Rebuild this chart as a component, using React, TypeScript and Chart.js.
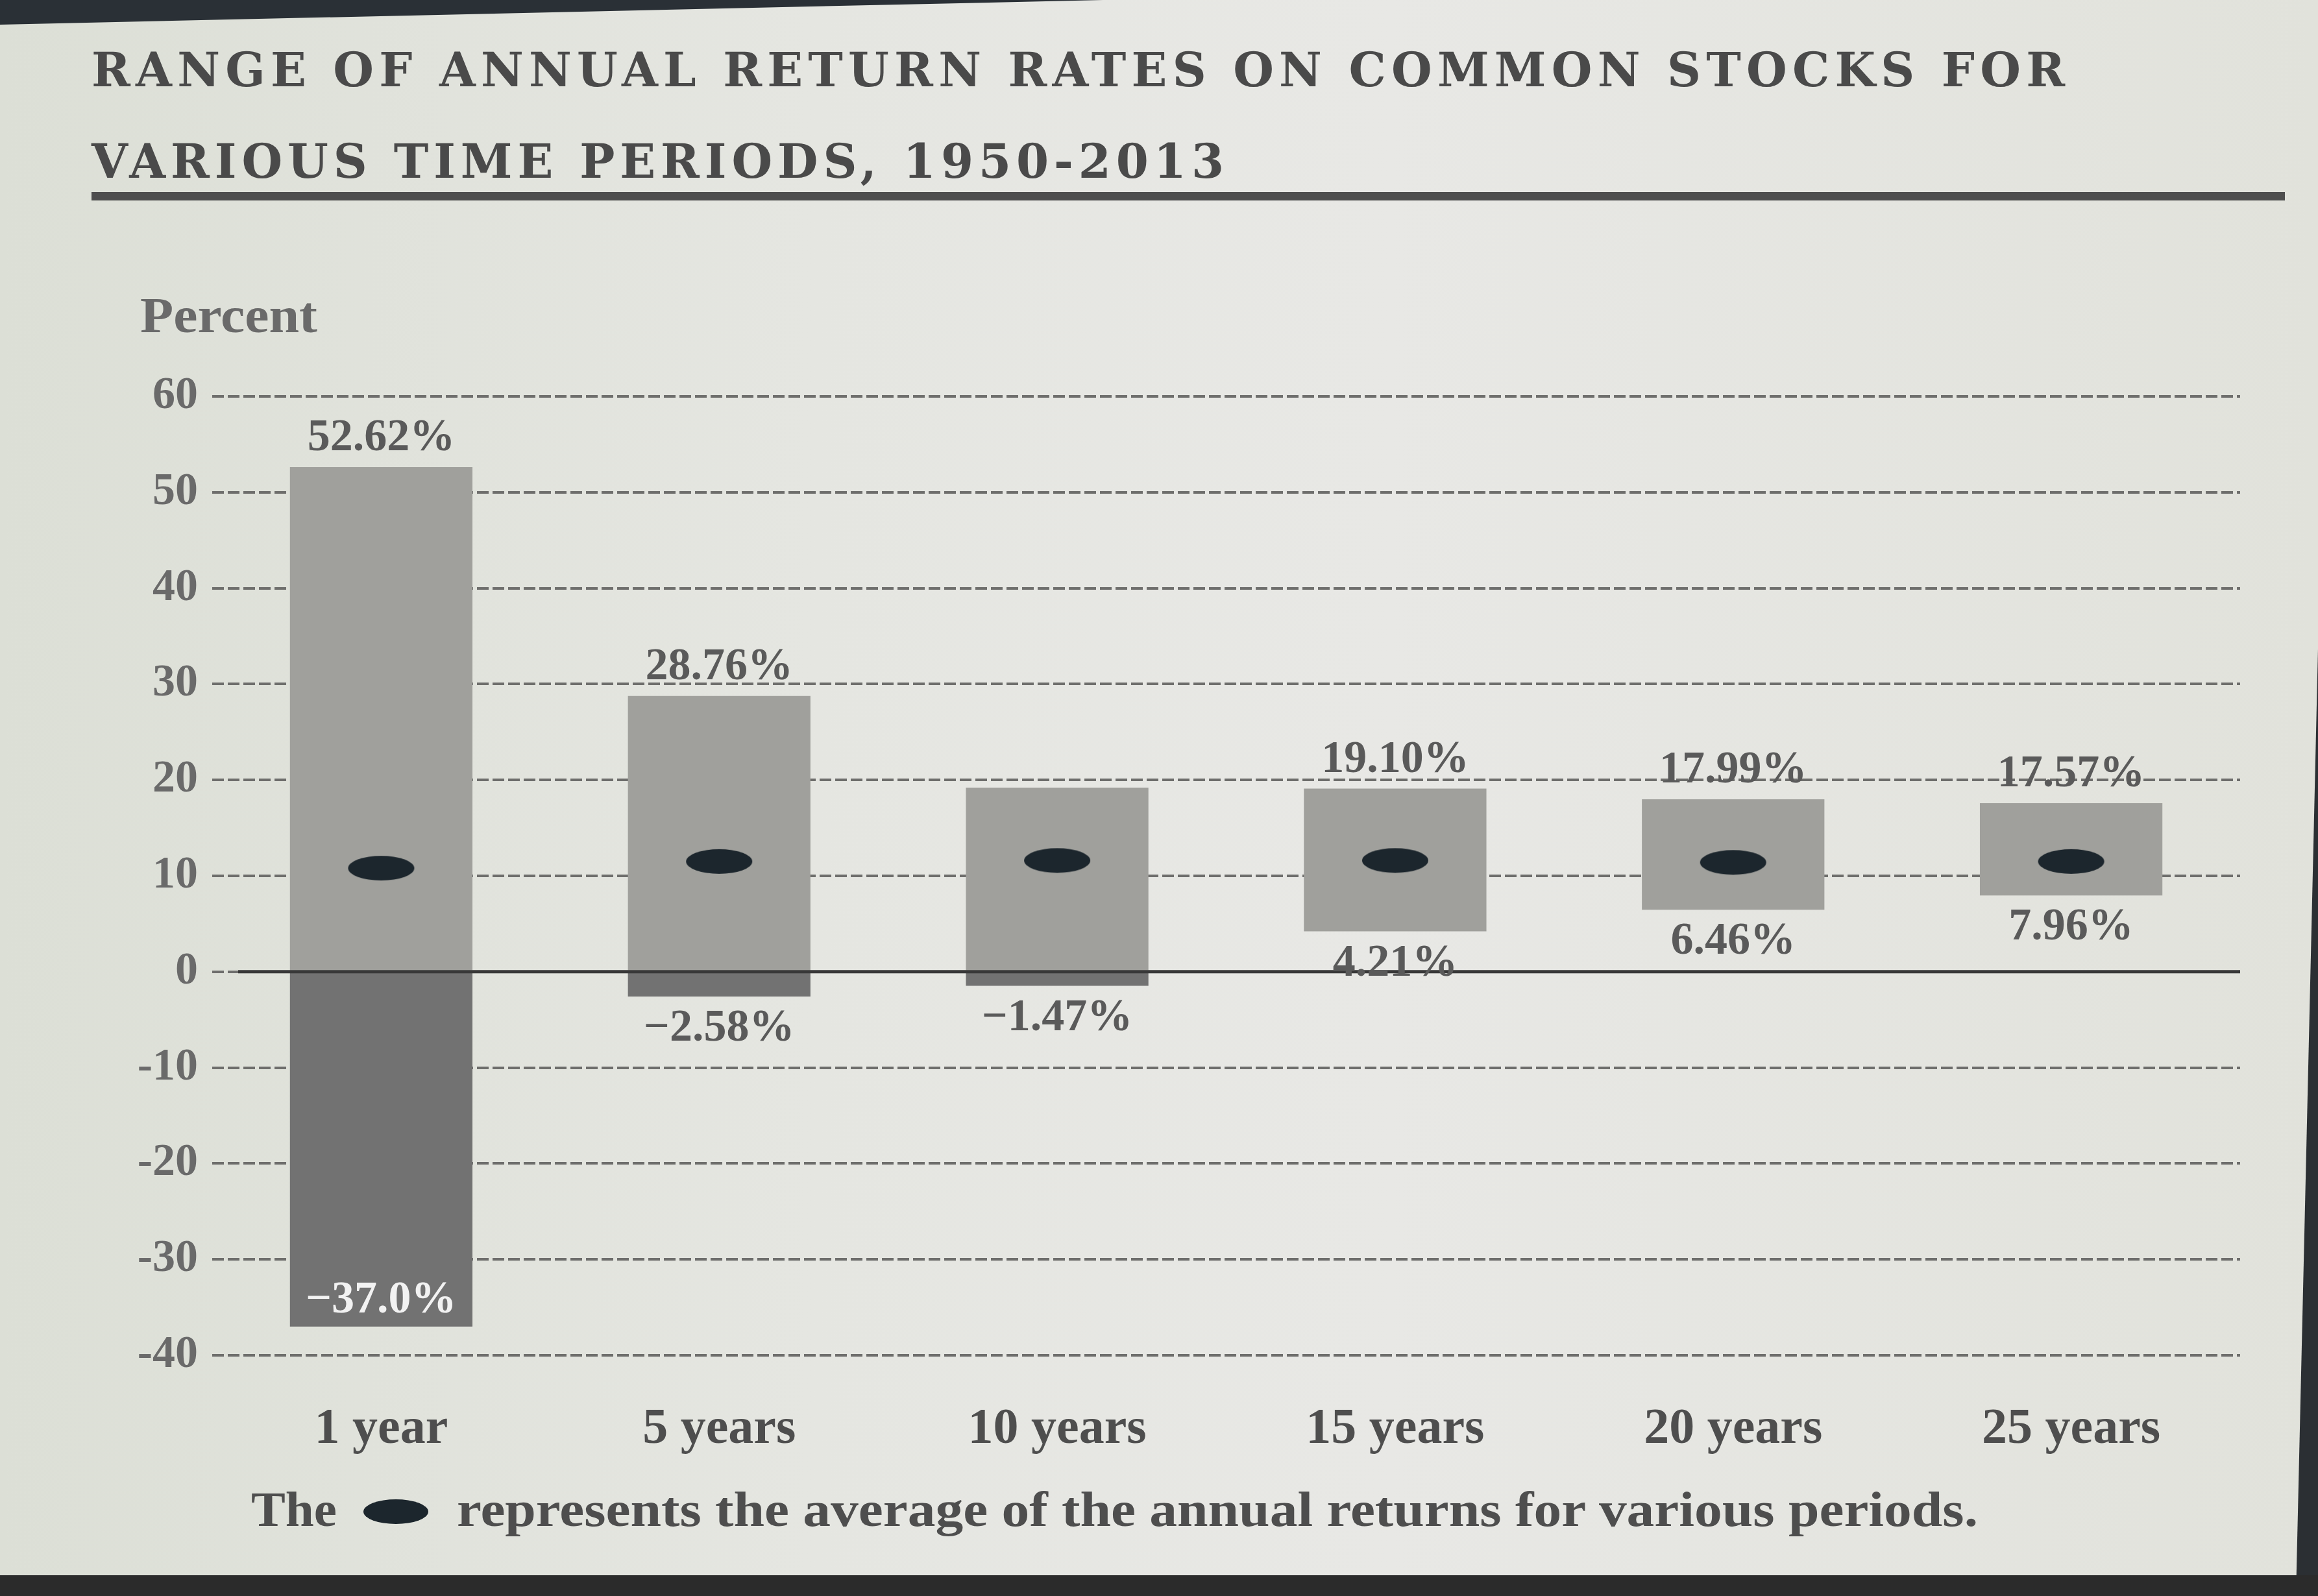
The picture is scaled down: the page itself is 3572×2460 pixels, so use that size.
import React, { useEffect, useRef } from "react";
import { Chart, registerables } from "chart.js";

Chart.register(...registerables);

const categories = ["1 year", "5 years", "10 years", "15 years", "20 years", "25 years"];
const highs = [52.62, 28.76, 19.2, 19.1, 17.99, 17.57];
const lows = [-37.0, -2.58, -1.47, 4.21, 6.46, 7.96];
const averages = [10.8, 11.5, 11.6, 11.6, 11.4, 11.5];
const highLabels = ["52.62%", "28.76%", "", "19.10%", "17.99%", "17.57%"];
const lowLabels = ["−37.0%", "−2.58%", "−1.47%", "4.21%", "6.46%", "7.96%"];
const yTicks = [60, 50, 40, 30, 20, 10, 0, -10, -20, -30, -40];

const W = 3572;
const H = 2460;

export default function App() {
  const ref = useRef<HTMLCanvasElement>(null);

  useEffect(() => {
    const canvas = ref.current;
    if (!canvas) return;

    const ell = document.createElement("canvas");
    ell.width = 106;
    ell.height = 42;
    const ec = ell.getContext("2d")!;
    ec.fillStyle = "#1c262d";
    ec.beginPath();
    ec.ellipse(53, 21, 51, 19, 0, 0, Math.PI * 2);
    ec.fill();

    const labelPlugin = {
      id: "rangeLabels",
      afterDatasetsDraw(chart: any) {
        const { ctx, chartArea } = chart;
        const y = chart.scales.y;
        const meta = chart.getDatasetMeta(1);
        const y0 = y.getPixelForValue(0);
        ctx.save();
        ctx.strokeStyle = "#383838";
        ctx.lineWidth = 5;
        ctx.beginPath();
        ctx.moveTo(chartArea.left + 40, y0);
        ctx.lineTo(chartArea.right, y0);
        ctx.stroke();

        ctx.font = 'bold 70px "Liberation Serif"';
        ctx.textAlign = "center";
        ctx.textBaseline = "middle";
        for (let i = 0; i < categories.length; i++) {
          const el = meta.data[i];
          if (!el) continue;
          const x = el.x;
          if (highLabels[i]) {
            ctx.fillStyle = "#5a5a5a";
            ctx.fillText(highLabels[i], x, y.getPixelForValue(highs[i]) - 44);
          }
          const lowPx = y.getPixelForValue(lows[i]);
          if (lowPx + 90 > chartArea.bottom) {
            ctx.fillStyle = "#f2f2f2";
            ctx.fillText(lowLabels[i], x, lowPx - 40);
          } else {
            ctx.fillStyle = "#5a5a5a";
            ctx.fillText(lowLabels[i], x, lowPx + 50);
          }
        }
        ctx.restore();
      },
    };

    const chart = new Chart(canvas, {
      type: "bar",
      data: {
        labels: categories,
        datasets: [
          {
            type: "line",
            label: "Average",
            data: averages,
            showLine: false,
            pointStyle: ell as any,
            pointRadius: 20,
            order: 0,
          } as any,
          {
            label: "Range above zero",
            data: categories.map((_, i) => [Math.max(0, lows[i]), highs[i]]),
            backgroundColor: "#a0a09c",
            grouped: false,
            barPercentage: 1,
            categoryPercentage: 0.54,
            order: 2,
          } as any,
          {
            label: "Range below zero",
            data: lows.map((l, i) => (l < 0 ? [l, Math.min(0, highs[i])] : null)),
            backgroundColor: "#727272",
            grouped: false,
            barPercentage: 1,
            categoryPercentage: 0.54,
            order: 1,
          } as any,
        ],
      },
      options: {
        responsive: false,
        maintainAspectRatio: false,
        animation: false,
        layout: { padding: { top: 611, right: 120, bottom: 0, left: 0 } },
        plugins: {
          legend: { display: false },
          tooltip: { enabled: false },
          title: { display: false },
        },
        scales: {
          x: {
            grid: { display: false },
            border: { display: false },
            ticks: {
              color: "#4e4e4e",
              padding: 60,
              font: { family: "Liberation Serif", size: 78, weight: "bold" },
            },
            afterFit: (s: any) => {
              s.height = 371;
            },
          },
          y: {
            min: -40,
            max: 60,
            afterBuildTicks: (s: any) => {
              s.ticks = yTicks.map((v) => ({ value: v }));
            },
            grid: { color: "#6e6e6c", lineWidth: 4, drawTicks: false },
            border: { display: false, dash: [18, 6] },
            ticks: {
              color: "#6a6a6a",
              padding: 22,
              font: { family: "Liberation Serif", size: 70, weight: "bold" },
              callback: (v: any) => String(v),
            },
            afterFit: (s: any) => {
              s.width = 327;
            },
          },
        },
      },
      plugins: [labelPlugin],
    } as any);

    return () => chart.destroy();
  }, []);

  return (
    <div
      style={{
        position: "fixed",
        left: 0,
        top: 0,
        width: W,
        height: H,
        background: "linear-gradient(90deg, #dcdfd6 0%, #e5e6e1 35%, #e8e8e5 60%, #e1e2db 100%)",
        overflow: "hidden",
      }}
    >
      <svg
        width={W}
        height={H}
        style={{ position: "absolute", left: 0, top: 0 }}
      >
        <polygon points="0,0 1700,0 0,38" fill="#2a3036" />
        <polygon points="3572,1000 3572,2460 3538,2460" fill="#2b2f33" />
        <text
          x={141}
          y={133}
          textLength={3041}
          lengthAdjust="spacing"
          fill="#4a4a4a"
          style={{ font: 'bold 72px "DejaVu Serif"' }}
        >
          RANGE OF ANNUAL RETURN RATES ON COMMON STOCKS FOR
        </text>
        <text
          x={141}
          y={274}
          textLength={1745}
          lengthAdjust="spacing"
          fill="#4a4a4a"
          style={{ font: 'bold 72px "DejaVu Serif"' }}
        >
          VARIOUS TIME PERIODS, 1950-2013
        </text>
        <rect x={141} y={296} width={3380} height={13} fill="#4e4e4e" />
        <text
          x={216}
          y={512}
          textLength={273}
          lengthAdjust="spacingAndGlyphs"
          fill="#6a6a6a"
          style={{ font: 'bold 78px "Liberation Serif"' }}
        >
          Percent
        </text>
        <text
          x={387}
          y={2352}
          textLength={132}
          lengthAdjust="spacingAndGlyphs"
          fill="#4e4e4e"
          style={{ font: 'bold 76px "Liberation Serif"' }}
        >
          The
        </text>
        <ellipse cx={610} cy={2330} rx={50} ry={19} fill="#1c262d" />
        <text
          x={704}
          y={2352}
          textLength={2344}
          lengthAdjust="spacingAndGlyphs"
          fill="#4e4e4e"
          style={{ font: 'bold 76px "Liberation Serif"' }}
        >
          represents the average of the annual returns for various periods.
        </text>
        <rect x={0} y={2428} width={W} height={32} fill="#2b2b2b" />
      </svg>
      <canvas
        ref={ref}
        width={W}
        height={H}
        style={{ position: "absolute", left: 0, top: 0, width: W, height: H }}
      />
    </div>
  );
}
